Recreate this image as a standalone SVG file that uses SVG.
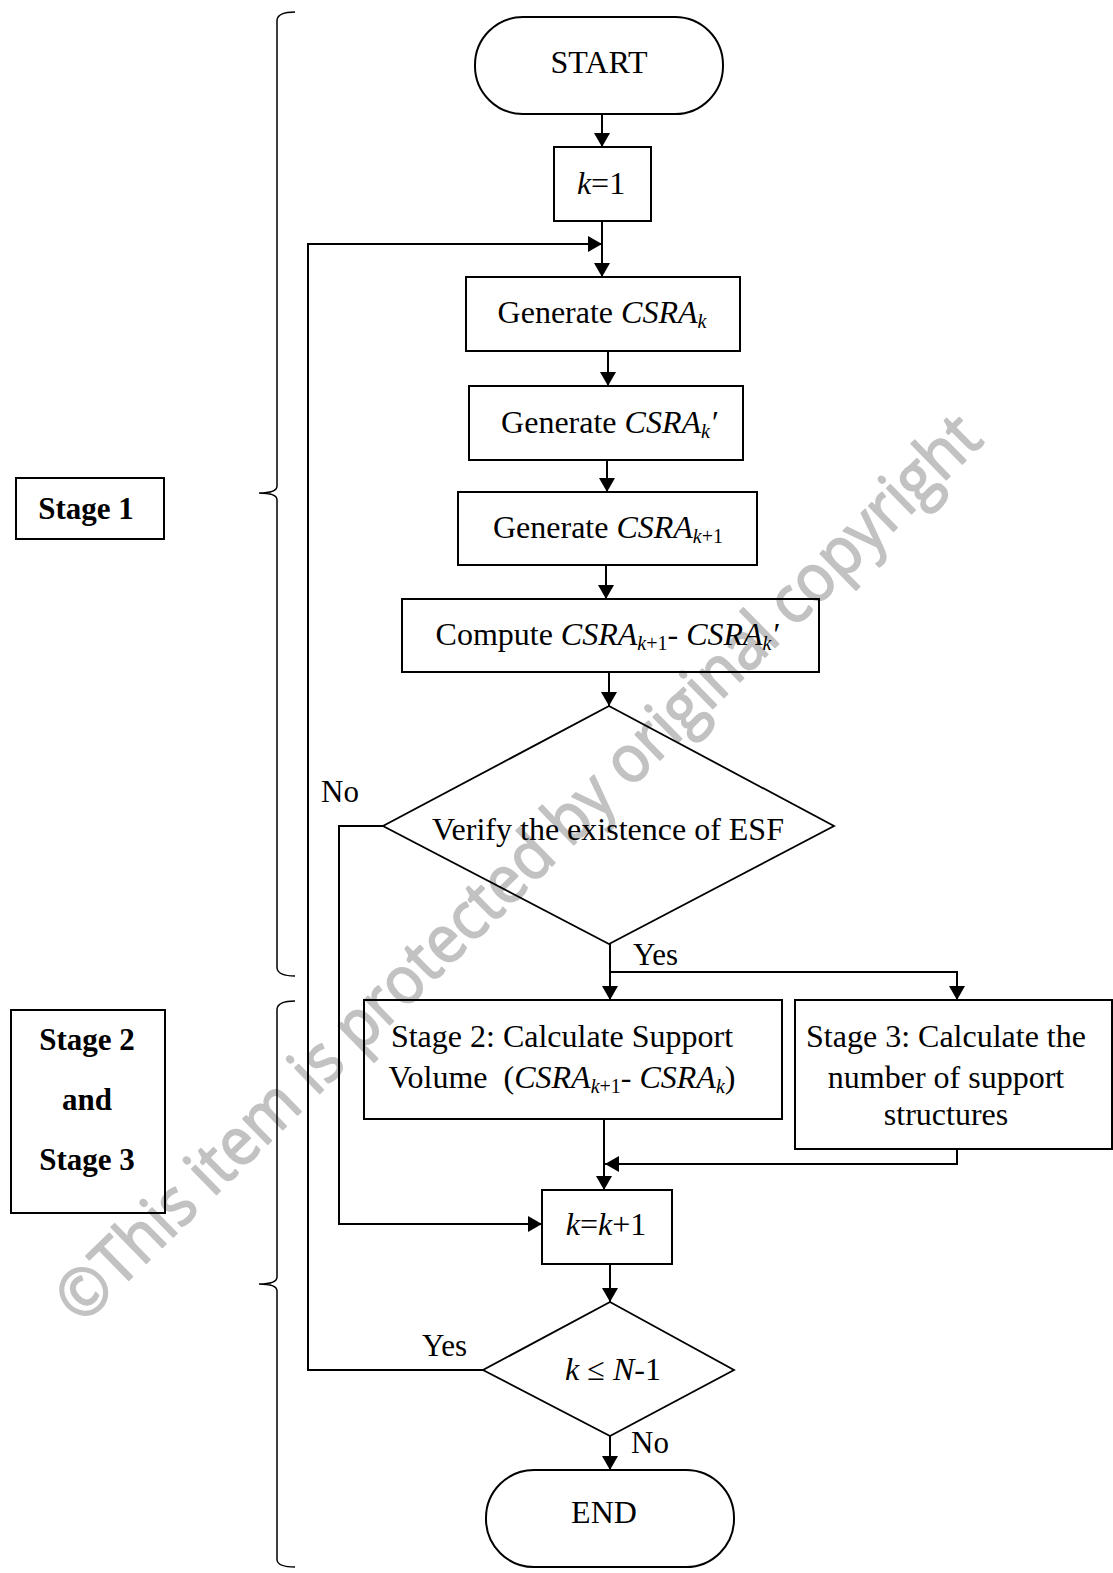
<svg xmlns="http://www.w3.org/2000/svg" width="1113" height="1573" viewBox="0 0 1113 1573">
  <style>
    .shape { fill: none; stroke: #000000; stroke-width: 2; }
    .thin { fill: none; stroke: #000000; stroke-width: 1.8; }
    .wire { fill: none; stroke: #000000; stroke-width: 2; }
    .brace { fill: none; stroke: #000000; stroke-width: 1.5; }
    text { font-family: "Liberation Serif", "Times New Roman", serif; fill: #000000; }
    .lbl { font-size: 32px; text-anchor: middle; }
    .tag { font-size: 31px; }
    .stage { font-size: 31px; font-weight: bold; text-anchor: middle; }
    .it { font-style: italic; }
    .mark { font-family: "Open Sans", "Noto Sans", sans-serif; font-size: 66px; fill: #c2c2c2; stroke: #c2c2c2; stroke-width: 1.8; stroke-linejoin: round; }
  </style>
  <defs>
    <marker id="arrow" markerUnits="userSpaceOnUse" markerWidth="14" markerHeight="16" refX="14" refY="8" orient="auto">
      <path d="M0,0 L14,8 L0,16 z" fill="#000000"/>
    </marker>
  </defs>

  <rect width="1113" height="1573" fill="#ffffff"/>

  <!-- diagonal notice, drawn first so lines and labels sit over it -->
  <text class="mark" x="82" y="1326" transform="rotate(-44.4 82 1326)" textLength="1264" lengthAdjust="spacingAndGlyphs">©This item is protected by original copyright</text>

  <!-- stage braces -->
  <g id="brace-stage1">
    <path class="brace" d="M295,12 Q278,12 277,20 L277,486 Q277,493 259,493 Q277,493 277,500 L277,968 Q278,976 295,976"/>
  </g>
  <g id="brace-stage23">
    <path class="brace" d="M295,1001 Q278,1001 277,1009 L277,1277 Q277,1284 259,1284 Q277,1284 277,1291 L277,1560 Q278,1567 295,1567"/>
  </g>

  <!-- stage labels -->
  <g id="label-stage1">
    <rect class="shape" x="16" y="478" width="148" height="61"/>
    <text class="stage" x="86" y="519">Stage 1</text>
  </g>
  <g id="label-stage23">
    <rect class="shape" x="11" y="1010" width="154" height="203"/>
    <text class="stage" x="87" y="1050">Stage 2</text>
    <text class="stage" x="87" y="1110">and</text>
    <text class="stage" x="87" y="1170">Stage 3</text>
  </g>

  <!-- connectors -->
  <g id="connectors">
    <line class="wire" x1="602" y1="114" x2="602" y2="147" marker-end="url(#arrow)"/>
    <line class="wire" x1="602" y1="221" x2="602" y2="277" marker-end="url(#arrow)"/>
    <polyline class="wire" points="483,1370 308,1370 308,244 602,244" marker-end="url(#arrow)"/>
    <line class="wire" x1="608" y1="351" x2="608" y2="386" marker-end="url(#arrow)"/>
    <line class="wire" x1="607" y1="460" x2="607" y2="492" marker-end="url(#arrow)"/>
    <line class="wire" x1="606" y1="565" x2="606" y2="599" marker-end="url(#arrow)"/>
    <line class="wire" x1="609" y1="672" x2="609" y2="706" marker-end="url(#arrow)"/>
    <polyline class="wire" points="383,826 339,826 339,1224 542,1224" marker-end="url(#arrow)"/>
    <line class="wire" x1="610" y1="944" x2="610" y2="1000" marker-end="url(#arrow)"/>
    <polyline class="wire" points="610,972 957,972 957,1000" marker-end="url(#arrow)"/>
    <line class="wire" x1="604" y1="1119" x2="604" y2="1190" marker-end="url(#arrow)"/>
    <polyline class="wire" points="957,1149 957,1164 605,1164" marker-end="url(#arrow)"/>
    <line class="wire" x1="610" y1="1264" x2="610" y2="1302" marker-end="url(#arrow)"/>
    <line class="wire" x1="610" y1="1436" x2="610" y2="1470" marker-end="url(#arrow)"/>
  </g>

  <!-- nodes -->
  <g id="start">
    <rect class="shape" x="475" y="17" width="248" height="97" rx="48" ry="48"/>
    <text class="lbl" x="599" y="73">START</text>
  </g>
  <g id="init-k">
    <rect class="shape" x="554" y="147" width="97" height="74"/>
    <text class="lbl" x="601" y="194"><tspan class="it">k</tspan>=1</text>
  </g>
  <g id="gen-csra-k">
    <rect class="shape" x="466" y="277" width="274" height="74"/>
    <text class="lbl" x="602" y="323">Generate <tspan class="it">CSRA</tspan><tspan class="it" font-size="20" dy="5">k</tspan></text>
  </g>
  <g id="gen-csra-k-prime">
    <rect class="shape" x="469" y="386" width="274" height="74"/>
    <text class="lbl" x="609" y="433">Generate <tspan class="it">CSRA</tspan><tspan class="it" font-size="20" dy="5">k</tspan><tspan class="it" dy="-5">′</tspan></text>
  </g>
  <g id="gen-csra-k1">
    <rect class="shape" x="458" y="492" width="299" height="73"/>
    <text class="lbl" x="608" y="538">Generate <tspan class="it">CSRA</tspan><tspan font-size="20" dy="5"><tspan class="it">k</tspan>+1</tspan></text>
  </g>
  <g id="compute-diff">
    <rect class="shape" x="402" y="599" width="417" height="73"/>
    <text class="lbl" x="607" y="645">Compute <tspan class="it">CSRA</tspan><tspan font-size="20" dy="5"><tspan class="it">k</tspan>+1</tspan><tspan dy="-5">- </tspan><tspan class="it">CSRA</tspan><tspan class="it" font-size="20" dy="5">k</tspan><tspan class="it" dy="-5">′</tspan></text>
  </g>
  <g id="verify-esf">
    <polygon class="thin" points="609,706 834,826 609,944 383,826"/>
    <text class="lbl" x="608" y="840">Verify the existence of ESF</text>
  </g>
  <g id="stage2-volume">
    <rect class="shape" x="364" y="1000" width="418" height="119"/>
    <text class="lbl" x="562" y="1047">Stage 2: Calculate Support</text>
    <text class="lbl" x="562" y="1088">Volume&#160; (<tspan class="it">CSRA</tspan><tspan font-size="20" dy="5"><tspan class="it">k</tspan>+1</tspan><tspan dy="-5">- </tspan><tspan class="it">CSRA</tspan><tspan class="it" font-size="20" dy="5">k</tspan><tspan dy="-5">)</tspan></text>
  </g>
  <g id="stage3-count">
    <rect class="shape" x="795" y="1000" width="317" height="149"/>
    <text class="lbl" x="946" y="1047">Stage 3: Calculate the</text>
    <text class="lbl" x="946" y="1088">number of support</text>
    <text class="lbl" x="946" y="1125">structures</text>
  </g>
  <g id="increment-k">
    <rect class="shape" x="542" y="1190" width="130" height="74"/>
    <text class="lbl" x="606" y="1235"><tspan class="it">k</tspan>=<tspan class="it">k</tspan>+1</text>
  </g>
  <g id="check-k">
    <polygon class="thin" points="610,1302 734,1370 610,1436 483,1370"/>
    <text class="lbl" x="613" y="1380"><tspan class="it">k</tspan> ≤ <tspan class="it">N</tspan>-1</text>
  </g>
  <g id="end">
    <rect class="shape" x="486" y="1470" width="248" height="97" rx="48" ry="48"/>
    <text class="lbl" x="604" y="1523">END</text>
  </g>

  <!-- branch labels -->
  <g id="branch-labels">
    <text class="tag" x="321" y="802">No</text>
    <text class="tag" x="633" y="965">Yes</text>
    <text class="tag" x="422" y="1356">Yes</text>
    <text class="tag" x="631" y="1453">No</text>
  </g>
</svg>
